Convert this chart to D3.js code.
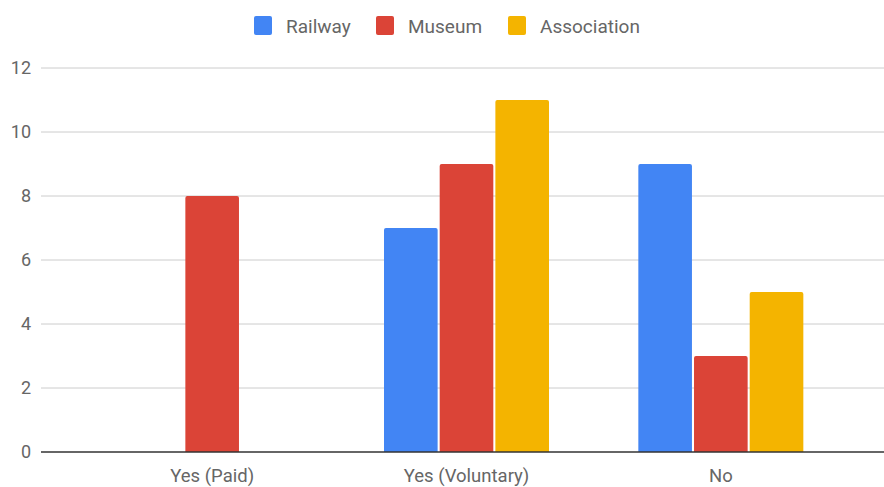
<!DOCTYPE html>
<html><head><meta charset="utf-8">
<script src="https://cdn.jsdelivr.net/npm/d3@7"></script>
<style>body{margin:0;background:#fff;}svg{display:block;font-family:Roboto,"Noto Sans",sans-serif;}</style>
</head><body>
<svg id="c" width="884" height="487"></svg>
<script>
const categories = ["Yes (Paid)", "Yes (Voluntary)", "No"];
const series = ["Railway", "Museum", "Association"];
const railway = [0, 7, 9];
const museum = [8, 9, 3];
const association = [0, 11, 5];
const yTicks = [0, 2, 4, 6, 8, 10, 12];
const colors = ["#4285F4", "#DB4437", "#F4B400"];

(function () {
const values = [railway, museum, association];
const svg = d3.select("#c");
const plotLeft = 41, plotRight = 884, plotTop = 68, plotBottom = 452;

const y = d3.scaleLinear().domain([0, 12]).range([plotBottom, plotTop]);
const x0 = d3.scaleBand().domain(categories).range([85, 848]).padding(0);
const groupW = 165;
const x1 = d3.scaleBand().domain(series).range([0, groupW]).paddingInner(0.037);

// gridlines
svg.append("g").selectAll("line").data(yTicks.filter(d => d !== 0)).join("line")
  .attr("x1", plotLeft).attr("x2", plotRight)
  .attr("y1", d => y(d)).attr("y2", d => y(d))
  .attr("stroke", "#ccc").attr("stroke-width", 1);

// y labels
const yAxis = d3.axisLeft(y).tickValues(yTicks).tickSize(0).tickPadding(0);
const ya = svg.append("g").attr("transform", `translate(31,0)`).call(yAxis);
ya.select(".domain").remove();
ya.selectAll("text").attr("fill", "#666").style("font-size", "18px").style("font-family", "Roboto");

// bars
const r = 2;
function barPath(x, w, y0, y1) {
  const h = y0 - y1;
  if (h <= 0) return "";
  const rr = Math.min(r, h);
  return `M${x},${y0}V${y1 + rr}Q${x},${y1} ${x + rr},${y1}H${x + w - rr}Q${x + w},${y1} ${x + w},${y1 + rr}V${y0}Z`;
}
const data = [];
categories.forEach((c, i) => series.forEach((s, j) => data.push({c, s, v: values[j][i], j})));
svg.append("g").selectAll("path").data(data.filter(d => d.v > 0)).join("path")
  .attr("d", d => {
    const cx = x0(d.c) + x0.bandwidth() / 2 - groupW / 2 + x1(d.s);
    return barPath(cx, x1.bandwidth(), y(0), y(d.v));
  })
  .attr("fill", d => colors[d.j]);

// baseline
svg.append("line").attr("x1", plotLeft).attr("x2", plotRight).attr("y1", y(0)).attr("y2", y(0))
  .attr("stroke", "#333").attr("stroke-width", 1.5);

// x labels
const xAxis = d3.axisBottom(x0).tickSize(0).tickPadding(0);
const xa = svg.append("g").attr("transform", `translate(0,${y(0) + 24})`).call(xAxis);
xa.select(".domain").remove();
xa.selectAll("text").attr("fill", "#666").attr("dy", "0.35em").style("font-size", "18.5px").style("font-family", "Roboto");

// legend
const legendX = [254, 376, 508];
const lg = svg.append("g");
series.forEach((s, i) => {
  lg.append("rect").attr("x", legendX[i]).attr("y", 16).attr("width", 18).attr("height", 19).attr("rx", 2)
    .attr("fill", colors[i]);
  lg.append("text").attr("x", legendX[i] + 32).attr("y", 26).attr("dy", "0.35em")
    .attr("fill", "#666").style("font-size", "19px").text(s);
});
})();
</script>
</body></html>
